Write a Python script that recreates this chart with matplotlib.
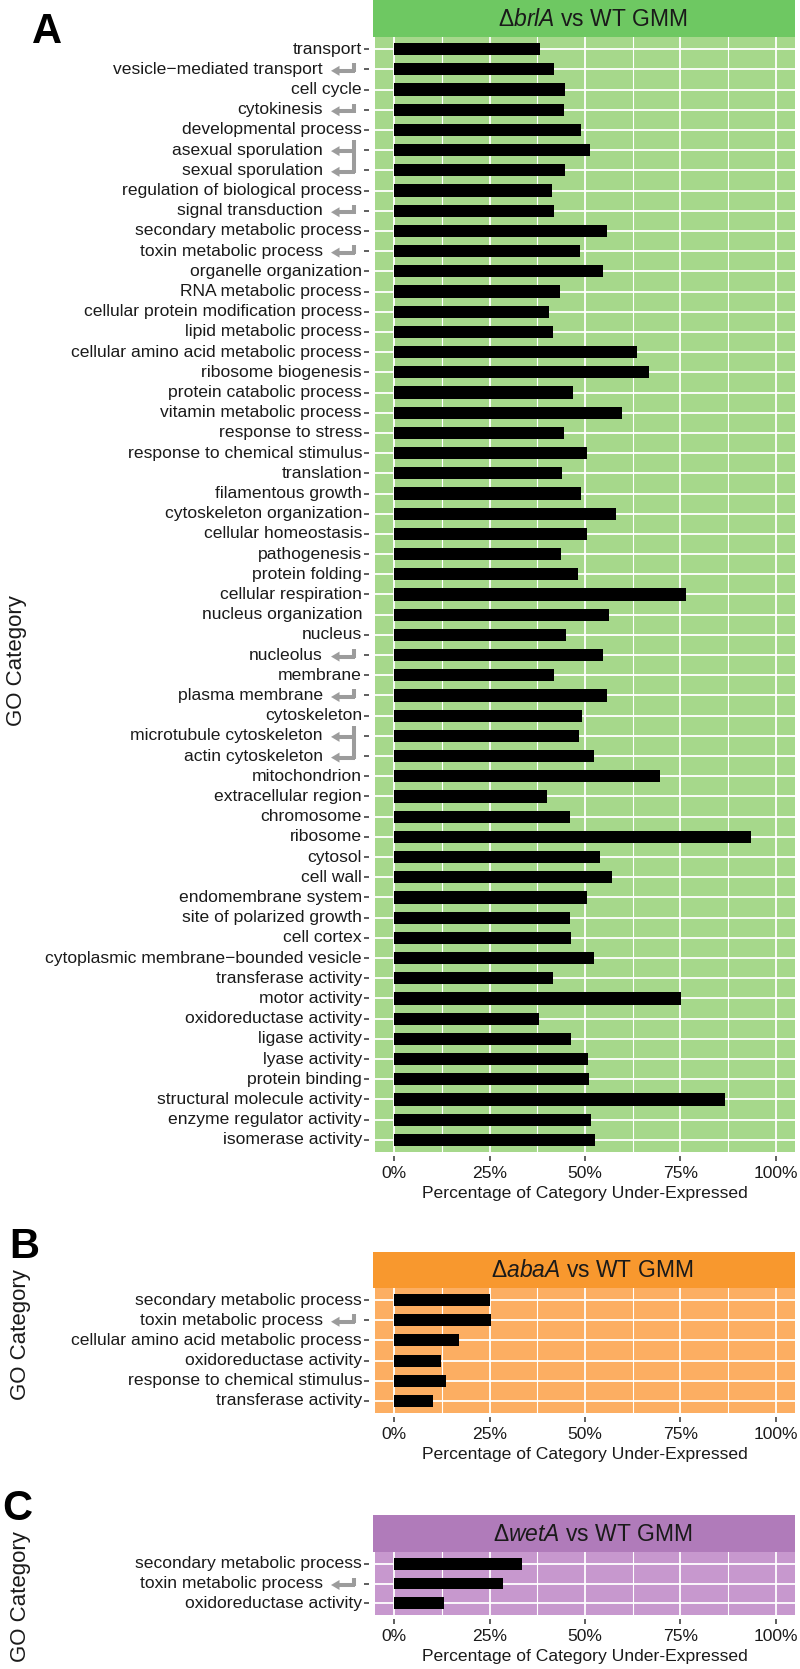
import matplotlib
matplotlib.use("Agg")
import matplotlib.pyplot as plt
from matplotlib.lines import Line2D
from matplotlib.patches import Polygon
from matplotlib.ticker import FixedLocator
import matplotlib.transforms as mtransforms

plt.rcParams['font.family'] = ['Liberation Sans', 'DejaVu Sans']
plt.rcParams['mathtext.fontset'] = 'custom'
plt.rcParams['mathtext.rm'] = 'Liberation Sans'
plt.rcParams['mathtext.it'] = 'Liberation Sans:italic'

# ---------------- data ----------------
cats_a = ["transport", "vesicle−mediated transport", "cell cycle", "cytokinesis",
          "developmental process", "asexual sporulation", "sexual sporulation",
          "regulation of biological process", "signal transduction",
          "secondary metabolic process", "toxin metabolic process",
          "organelle organization", "RNA metabolic process",
          "cellular protein modification process", "lipid metabolic process",
          "cellular amino acid metabolic process", "ribosome biogenesis",
          "protein catabolic process", "vitamin metabolic process",
          "response to stress", "response to chemical stimulus", "translation",
          "filamentous growth", "cytoskeleton organization", "cellular homeostasis",
          "pathogenesis", "protein folding", "cellular respiration",
          "nucleus organization", "nucleus", "nucleolus", "membrane",
          "plasma membrane", "cytoskeleton", "microtubule cytoskeleton",
          "actin cytoskeleton", "mitochondrion", "extracellular region",
          "chromosome", "ribosome", "cytosol", "cell wall", "endomembrane system",
          "site of polarized growth", "cell cortex",
          "cytoplasmic membrane−bounded vesicle", "transferase activity",
          "motor activity", "oxidoreductase activity", "ligase activity",
          "lyase activity", "protein binding", "structural molecule activity",
          "enzyme regulator activity", "isomerase activity"]
vals_a = [0.383, 0.419, 0.448, 0.444, 0.490, 0.513, 0.447, 0.414, 0.420, 0.557,
          0.487, 0.546, 0.435, 0.406, 0.417, 0.636, 0.668, 0.468, 0.596, 0.444,
          0.504, 0.440, 0.490, 0.580, 0.506, 0.436, 0.481, 0.764, 0.564, 0.449,
          0.547, 0.420, 0.557, 0.491, 0.485, 0.523, 0.696, 0.401, 0.460, 0.935,
          0.538, 0.570, 0.504, 0.462, 0.464, 0.523, 0.417, 0.752, 0.379, 0.464,
          0.509, 0.510, 0.867, 0.517, 0.527]

cats_b = ["secondary metabolic process", "toxin metabolic process",
          "cellular amino acid metabolic process", "oxidoreductase activity",
          "response to chemical stimulus", "transferase activity"]
vals_b = [0.250, 0.254, 0.170, 0.122, 0.135, 0.102]

cats_c = ["secondary metabolic process", "toxin metabolic process",
          "oxidoreductase activity"]
vals_c = [0.335, 0.284, 0.130]

# linked categories (single arrows and brackets)
single_a = ["vesicle−mediated transport", "cytokinesis", "signal transduction",
            "toxin metabolic process", "nucleolus", "plasma membrane"]
brackets_a = [("asexual sporulation", "sexual sporulation"),
              ("microtubule cytoskeleton", "actin cytoskeleton")]
single_b = ["toxin metabolic process"]
single_c = ["toxin metabolic process"]
no_tick_a = ["nucleus organization"]

x_ticks = [0, 0.25, 0.5, 0.75, 1.0]
x_ticklabels = ["0%", "25%", "50%", "75%", "100%"]
x_minor = [0.125, 0.375, 0.625, 0.875]

W, H = 800, 1669
fig = plt.figure(figsize=(W / 100, H / 100), dpi=100)
fig.patch.set_facecolor("white")

FS = 12.6
ARROW_COL = "#9c9c9c"


def rect(left, right, top, bottom):
    return [left / W, 1 - bottom / H, (right - left) / W, (bottom - top) / H]


def px(ax, row):
    """display y (pixels from bottom) of a row"""
    return ax.transData.transform((0, row))[1]


def fline(xs, ys, lw):
    fig.add_artist(Line2D([x / W for x in xs], [y / H for y in ys],
                          transform=fig.transFigure, color=ARROW_COL, lw=lw,
                          solid_capstyle="butt"))


def fhead(x_tip, y):
    pts = [(x_tip / W, y / H), ((x_tip + 8.5) / W, (y + 5) / H),
           ((x_tip + 8.5) / W, (y - 5) / H)]
    fig.add_artist(Polygon(pts, closed=True, transform=fig.transFigure,
                           facecolor=ARROW_COL, edgecolor="none"))


def draw_single(ax, row):
    y = px(ax, row) - 1.5
    fline([338, 355], [y, y], 2.9)
    fhead(331, y)
    fline([353.5, 353.5], [y - 1.4, y + 7.5], 2.9)


def draw_bracket(ax, r1, r2):
    y1 = px(ax, r1) - 1
    y2 = px(ax, r2) - 1.5
    for y in (y1, y2):
        fline([338, 355], [y, y], 2.9)
        fhead(331, y)
    fline([353.5, 353.5], [y2 - 1.4, y1 + 11], 2.9)


def panel(cats, vals, top, bottom, strip_top, panel_col, strip_col, title,
          singles, brackets, no_tick=()):
    n = len(cats)
    left, right = 375, 795
    ax = fig.add_axes(rect(left, right, top, bottom))
    sax = fig.add_axes(rect(left - 2, right, strip_top, top))
    sax.set_facecolor(strip_col)
    sax.set_xticks([]); sax.set_yticks([])
    for s in sax.spines.values():
        s.set_visible(False)
    sax.text(0.52, 0.48, title, ha="center", va="center", fontsize=16.5,
             color="#1a1a1a", transform=sax.transAxes)

    ax.set_facecolor(panel_col)
    ypos = list(range(n))
    ax.set_xlim(-0.05, 1.05)
    ax.set_ylim(n - 1 + 0.6, -0.6)
    ax.xaxis.set_major_locator(FixedLocator(x_ticks))
    ax.xaxis.set_minor_locator(FixedLocator(x_minor))
    ax.set_yticks(ypos)
    ax.set_yticklabels([""] * n)
    ax.grid(True, which="major", color="white", lw=1.3)
    ax.grid(True, which="minor", axis="x", color="white", lw=0.8)
    ax.set_axisbelow(True)
    ax.barh(ypos, vals, height=0.6, color="black", left=0)
    for s in ax.spines.values():
        s.set_visible(False)
    ax.spines["left"].set_position(("outward", 4))
    ax.spines["bottom"].set_position(("outward", 3))
    ax.tick_params(axis="y", length=3.8, width=1.1, color="#333333")
    ax.tick_params(axis="x", length=3.8, width=1.1, color="#333333",
                   labelsize=FS, labelcolor="#1a1a1a", pad=3)
    ax.tick_params(axis="x", which="minor", length=0)
    ax.set_xticks(x_ticks)
    ax.set_xticklabels(x_ticklabels)
    for i, t in enumerate(ax.yaxis.get_major_ticks()):
        if cats[i] in no_tick:
            t.tick1line.set_visible(False)

    tr = mtransforms.blended_transform_factory(fig.transFigure, ax.transData)
    linked = set(singles) | {c for b in brackets for c in b}
    for i, c in enumerate(cats):
        xr = 323 if c in linked else 362
        ax.text(xr / W, i, c, transform=tr, ha="right", va="center",
                fontsize=FS, color="#1a1a1a")
    for c in singles:
        draw_single(ax, cats.index(c))
    for a, b in brackets:
        draw_bracket(ax, cats.index(a), cats.index(b))
    ax.set_xlabel("Percentage of Category Under-Expressed", fontsize=FS,
                  color="#1a1a1a", labelpad=4)
    return ax


axA = panel(cats_a, vals_a, 37, 1152, 0, "#a6d88b", "#6ec862",
            "Δ$\\mathit{brlA}$ vs WT GMM", single_a, brackets_a, no_tick_a)
axB = panel(cats_b, vals_b, 1288, 1413, 1252, "#fcae62", "#f8982e",
            "Δ$\\mathit{abaA}$ vs WT GMM", single_b, [])
axC = panel(cats_c, vals_c, 1552, 1615, 1515, "#c798ce", "#b07bba",
            "Δ$\\mathit{wetA}$ vs WT GMM", single_c, [])

# panel letters
for letter, x, ybase in [("A", 32, 43), ("B", 9, 1258), ("C", 2, 1520)]:
    fig.text(x / W, 1 - ybase / H, letter, fontsize=30, fontweight="bold",
             ha="left", va="baseline")

# y-axis titles
for yc, xc in [(661, 17), (1335, 21), (1597, 21)]:
    fig.text(xc / W, 1 - yc / H, "GO Category", rotation=90, fontsize=16,
             ha="center", va="center", color="#1a1a1a")

fig.savefig("out.png", dpi=100)
